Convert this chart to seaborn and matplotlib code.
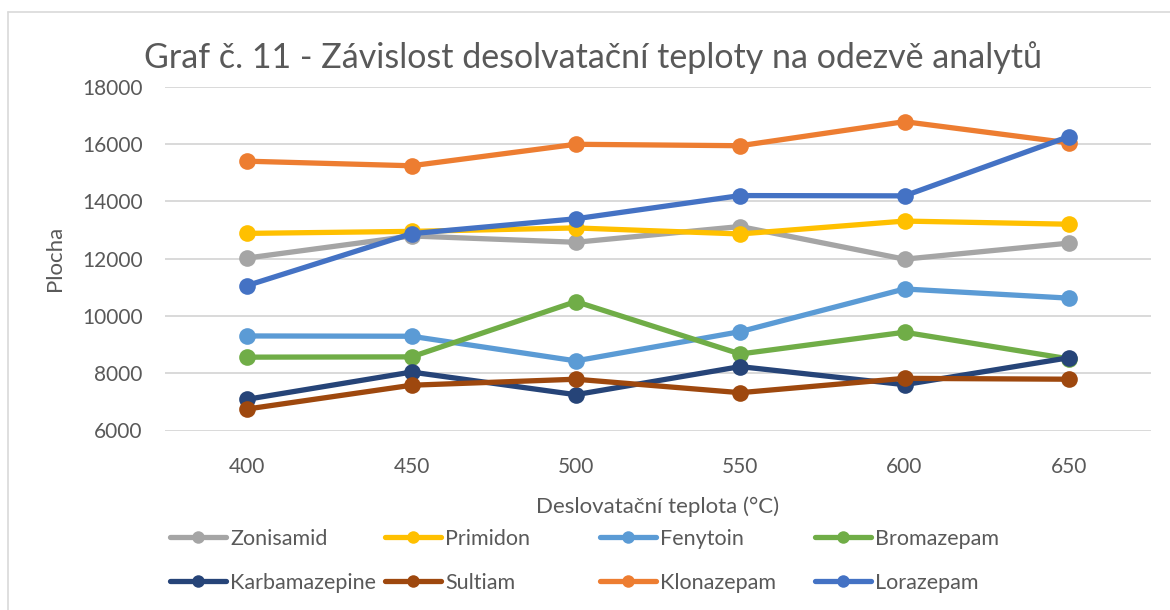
import matplotlib
matplotlib.use("Agg")
import matplotlib.pyplot as plt
from matplotlib.lines import Line2D
import pandas as pd
import seaborn as sns

# Desolvation temperatures (°C)
temperatures = [400, 450, 500, 550, 600, 650]

# Peak areas for each analyte
zonisamid = [12020, 12790, 12570, 13120, 11980, 12540]
primidon = [12880, 12950, 13070, 12860, 13310, 13200]
fenytoin = [9300, 9290, 8430, 9450, 10940, 10620]
bromazepam = [8560, 8570, 10500, 8670, 9430, 8500]
karbamazepine = [7090, 8040, 7250, 8230, 7600, 8540]
sultiam = [6750, 7580, 7790, 7320, 7820, 7790]
klonazepam = [15400, 15240, 15990, 15940, 16780, 16040]
lorazepam = [11060, 12870, 13390, 14200, 14190, 16260]

analytes = ["Zonisamid", "Primidon", "Fenytoin", "Bromazepam",
            "Karbamazepine", "Sultiam", "Klonazepam", "Lorazepam"]
series = [zonisamid, primidon, fenytoin, bromazepam,
          karbamazepine, sultiam, klonazepam, lorazepam]
colors = ["#A5A5A5", "#FFC000", "#5B9BD5", "#70AD47",
          "#264478", "#9E480E", "#ED7D31", "#4472C4"]

y_ticks = [6000, 8000, 10000, 12000, 14000, 16000, 18000]

title = "Graf č. 11 - Závislost desolvatační teploty na odezvě analytů"
x_label = "Deslovatační teplota (°C)"
y_label = "Plocha"

rows = []
for name, vals in zip(analytes, series):
    for t, v in zip(temperatures, vals):
        rows.append({"Teplota": t, "Plocha": v, "Analyt": name})
df = pd.DataFrame(rows)

sns.set_theme(style="white")
plt.rcParams["font.family"] = ["Lato", "DejaVu Sans"]
text_color = "#595959"
grid_color = "#D9D9D9"

fig = plt.figure(figsize=(11.7, 6.1), dpi=100)
ax = fig.add_axes([165 / 1170, 1 - 430.5 / 610, (1151 - 165) / 1170, (430.5 - 86.7) / 610])

palette = dict(zip(analytes, colors))
sns.lineplot(data=df, x="Teplota", y="Plocha", hue="Analyt", hue_order=analytes,
             palette=palette, marker="o", markersize=12, markeredgewidth=0,
             linewidth=3.8, legend=False, ax=ax, zorder=3)

step = temperatures[1] - temperatures[0]
ax.set_xlim(temperatures[0] - step / 2, temperatures[-1] + step / 2)
ax.set_ylim(y_ticks[0], y_ticks[-1])
ax.set_xticks(temperatures)
ax.set_xticklabels([str(t) for t in temperatures])
ax.set_yticks(y_ticks)
ax.set_yticklabels([str(v) for v in y_ticks])
ax.yaxis.grid(True, color=grid_color, linewidth=1.4, zorder=0)
ax.xaxis.grid(False)
for s in ax.spines.values():
    s.set_visible(False)
ax.tick_params(axis="both", length=0, labelsize=15, colors=text_color)
ax.tick_params(axis="y", pad=16)
ax.tick_params(axis="x", pad=19)

ax.set_xlabel(x_label, fontsize=16, color=text_color, labelpad=14)
ax.set_ylabel(y_label, fontsize=16, color=text_color, labelpad=12)

fig.text(593 / 1170, 1 - 58 / 610, title, ha="center", va="center",
         fontsize=24.5, color=text_color)

# Legend in four columns of two entries each
handles = [Line2D([0], [0], color=c, linewidth=3.8, marker="o", markersize=9,
                  markeredgewidth=0) for c in colors]
col_x = [170, 385, 600, 815]
for i, x0 in enumerate(col_x):
    idx = [i, i + 4]
    fig.legend([handles[j] for j in idx], [analytes[j] for j in idx],
               loc="upper left", bbox_to_anchor=(x0 / 1170, 1 - 529 / 610),
               frameon=False, borderpad=0, borderaxespad=0,
               handlelength=2.6, handletextpad=0.2, labelspacing=1.1,
               fontsize=15.5, labelcolor=text_color)

# Chart area outline
fig.add_artist(Line2D([8 / 1170, 8 / 1170], [0, 1 - 12 / 610], transform=fig.transFigure,
                      color="#D9D9D9", linewidth=1.2))
fig.add_artist(Line2D([8 / 1170, 1], [1 - 12 / 610, 1 - 12 / 610], transform=fig.transFigure,
                      color="#D9D9D9", linewidth=1.2))

fig.savefig("out.png", dpi=100, facecolor="white")
